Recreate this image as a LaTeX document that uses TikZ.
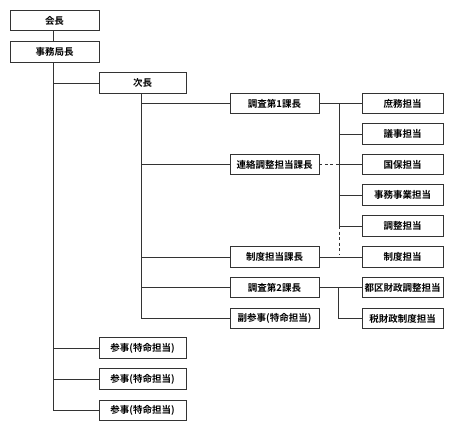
\documentclass[tikz,border=0pt]{standalone}
\usepackage{fontspec}
\setmainfont{Noto Sans CJK JP}[BoldFont={Noto Sans CJK JP Bold}]
\usetikzlibrary{calc}
\definecolor{ln}{HTML}{333333}
\begin{document}
\begin{tikzpicture}[x=1pt,y=-1pt,
  box/.style={draw=ln,line width=0.9pt,fill=white,inner sep=0pt,minimum height=20.5pt,font=\fontsize{9.5}{10}\selectfont\bfseries},
  lbox/.style={box,minimum width=89pt},
  mbox/.style={box,minimum width=87pt},
  rbox/.style={box,minimum width=81pt},
  conn/.style={draw=ln,line width=0.9pt},
  dconn/.style={conn,dash pattern=on 3pt off 2.5pt}]
\useasboundingbox (0,0) rectangle (458,431);
\node[lbox] (kaicho) at (54.5,20.5) {会長};
\node[lbox] (jimu) at (54.5,52) {事務局長};
\node[mbox] (jicho) at (142.5,83) {次長};
\node[lbox] (c1) at (274.5,103.5) {調査第1課長};
\node[lbox] (ren) at (274.5,164.5) {連絡調整担当課長};
\node[lbox] (seikc) at (274.5,257) {制度担当課長};
\node[lbox] (c2) at (274.5,287.5) {調査第2課長};
\node[lbox] (fuku) at (274.5,318.5) {副参事(特命担当)};
\node[rbox] (shomu) at (402.5,103.5) {庶務担当};
\node[rbox] (giji) at (402.5,134) {議事担当};
\node[rbox] (kokuho) at (402.5,164.5) {国保担当};
\node[rbox] (jigyo) at (402.5,195) {事務事業担当};
\node[rbox] (chosei) at (402.5,226) {調整担当};
\node[rbox] (seido) at (402.5,257) {制度担当};
\node[rbox] (toku) at (402.5,287.5) {都区財政調整担当};
\node[rbox] (zei) at (402.5,318.5) {税財政制度担当};
\node[mbox] (s1) at (142.5,348) {参事(特命担当)};
\node[mbox] (s2) at (142.5,379) {参事(特命担当)};
\node[mbox] (s3) at (142.5,410.5) {参事(特命担当)};
% connectors
\draw[conn] ([xshift=-1.5pt]kaicho.south) -- ([xshift=-1.5pt]jimu.north);
\coordinate (ja) at ([xshift=-1.5pt]jimu.south);
\draw[conn] (ja) |- (s3.west);
\draw[conn] (ja |- jicho.west) -- (jicho.west);
\draw[conn] (ja |- s1.west) -- (s1.west);
\draw[conn] (ja |- s2.west) -- (s2.west);
\coordinate (jb) at ([xshift=-1.5pt]jicho.south);
\draw[conn] (jb) |- (fuku.west);
\draw[conn] (jb |- c1.west) -- (c1.west);
\draw[conn] (jb |- ren.west) -- (ren.west);
\draw[conn] (jb |- seikc.west) -- (seikc.west);
\draw[conn] (jb |- c2.west) -- (c2.west);
\coordinate (rb) at ($(c1.east)!0.465!(shomu.west)$);
\draw[conn] (c1.east) -- (shomu.west);
\draw[conn] (rb) |- (chosei.west);
\draw[conn] (rb |- giji.west) -- (giji.west);
\draw[conn] (rb |- kokuho.west) -- (kokuho.west);
\draw[conn] (rb |- jigyo.west) -- (jigyo.west);
\draw[dconn] (ren.east) -- (rb |- ren.east);
\draw[dconn] (rb |- chosei.west) -- ($(rb |- seido.west)+(0,-3)$);
\draw[conn] (seikc.east) -- (seido.west);
\draw[conn] (c2.east) -- (toku.west);
\coordinate (rc) at ($(c2.east)!0.44!(toku.west)$);
\draw[conn] (rc) |- (zei.west);
\end{tikzpicture}
\end{document}
